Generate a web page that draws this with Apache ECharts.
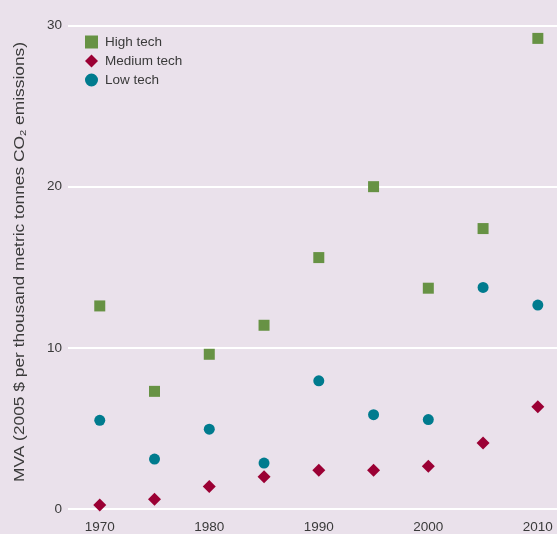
<!DOCTYPE html>
<html><head><meta charset="utf-8">
<script src="https://cdn.jsdelivr.net/npm/echarts@6/dist/echarts.min.js"></script>
<style>html,body{margin:0;padding:0;background:#EAE1EB}#c{width:557px;height:534px}</style>
</head><body><div id="c"></div>
<script>
const years = [1970, 1975, 1980, 1985, 1990, 1995, 2000, 2005, 2010];
const highTech = [12.6, 7.3, 9.6, 11.4, 15.6, 20.0, 13.7, 17.4, 29.2];
const mediumTech = [0.25, 0.6, 1.4, 2.0, 2.4, 2.4, 2.65, 4.1, 6.35];
const lowTech = [5.5, 3.1, 4.95, 2.85, 7.95, 5.85, 5.55, 13.75, 12.65];
const xTicks = [1970, 1980, 1990, 2000, 2010];
const yTicks = [0, 10, 20, 30];

const FONT = '"Liberation Sans", Arial, sans-serif';
const TXT = '#3a3a3a';
const pair = arr => years.map((y, i) => [y, arr[i]]);

const chart = echarts.init(document.getElementById('c'), null, {renderer: 'canvas'});
chart.setOption({
  backgroundColor: '#EAE1EB',
  animation: false,
  textStyle: {fontFamily: FONT},
  grid: {left: 68, right: 0, top: 25.5, bottom: 24},
  legend: {
    orient: 'vertical', left: 80, top: 30, itemWidth: 13, itemHeight: 13, itemGap: 5,
    textStyle: {fontFamily: FONT, fontSize: 13.5, color: TXT, padding: [0, 0, 0, 2]},
    data: [
      {name: 'High tech', icon: 'path://M1,1 L12,1 L12,12 L1,12 Z'},
      {name: 'Medium tech', icon: 'diamond'},
      {name: 'Low tech', icon: 'path://M6.5,1 A5.5,5.5 0 1 1 6.49,1 Z'}
    ]
  },
  xAxis: {
    type: 'value', min: 1967.1, max: 2011.75,
    axisLine: {show: false}, axisTick: {show: false}, splitLine: {show: false},
    axisLabel: {customValues: xTicks, formatter: v => String(v), fontSize: 13.5, color: TXT, margin: 11, fontFamily: FONT}
  },
  yAxis: {
    type: 'value', min: 0, max: 30, interval: 10,
    axisLine: {show: false}, axisTick: {show: false},
    axisLabel: {customValues: yTicks, fontSize: 13.5, color: TXT, margin: 6, fontFamily: FONT},
    splitLine: {show: true, lineStyle: {color: '#ffffff', width: 2}}
  },
  graphic: [{
    type: 'text', x: 20, y: 262, rotation: Math.PI / 2, scaleX: 1.24,
    style: {
      text: '{a|MVA (2005 $ per thousand metric tonnes CO}{s|2}{a| emissions)}',
      align: 'center', verticalAlign: 'middle',
      rich: {
        a: {fontFamily: FONT, fontSize: 14, fill: TXT, lineHeight: 16},
        s: {fontFamily: FONT, fontSize: 9, fill: TXT, lineHeight: 16, verticalAlign: 'bottom', padding: [7, 0, 0, 0]}
      }
    }
  }],
  series: [
    {name: 'High tech', type: 'scatter', symbol: 'rect', symbolSize: 11, itemStyle: {color: '#679244', opacity: 1}, data: pair(highTech)},
    {name: 'Medium tech', type: 'scatter', symbol: 'diamond', symbolSize: 13, itemStyle: {color: '#9B0034', opacity: 1}, data: pair(mediumTech)},
    {name: 'Low tech', type: 'scatter', symbol: 'circle', symbolSize: 11, itemStyle: {color: '#007B8E', opacity: 1}, data: pair(lowTech)}
  ]
});
</script></body></html>
